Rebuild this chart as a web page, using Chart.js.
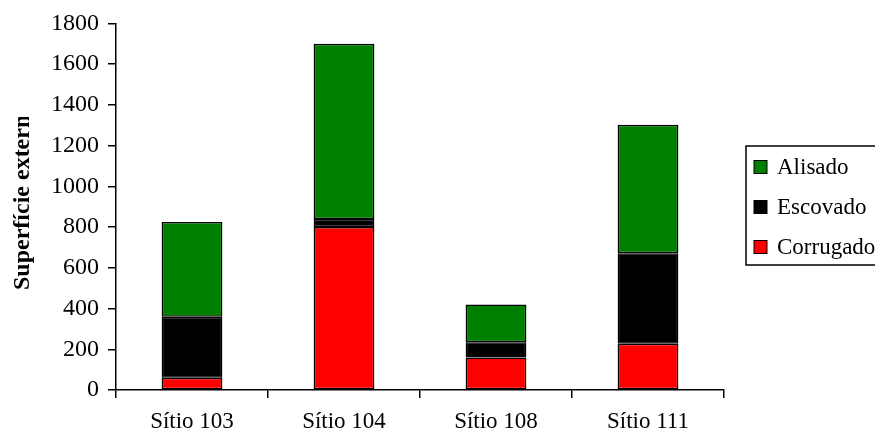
<!DOCTYPE html>
<html>
<head>
<meta charset="utf-8">
<script src="https://cdn.jsdelivr.net/npm/chart.js@4.4.0/dist/chart.umd.min.js"></script>
<style>
  html, body { margin: 0; padding: 0; background: #fff; }
  #wrap { width: 875px; height: 437px; }
</style>
</head>
<body>
<div id="wrap"><canvas id="chart" width="875" height="437"></canvas></div>
<script>
const sites = ['Sítio 103', 'Sítio 104', 'Sítio 108', 'Sítio 111'];
const corrugado = [60, 800, 160, 227];
const escovado = [300, 40, 75, 445];
const alisado = [465, 860, 185, 630];
const yTicks = [0, 200, 400, 600, 800, 1000, 1200, 1400, 1600, 1800];
const yTitle = 'Superfície externa';

const serif = '"Liberation Serif", "Times New Roman", serif';

// legend box on the right, cut off by the canvas edge
const boxLegend = {
  id: 'boxLegend',
  afterDraw(chart) {
    const ctx = chart.ctx;
    const items = chart.data.datasets.slice().reverse();
    ctx.save();
    ctx.lineWidth = 1.5;
    ctx.strokeStyle = '#000';
    ctx.strokeRect(746, 146, 140, 119);
    ctx.font = '23px ' + serif;
    ctx.textBaseline = 'middle';
    items.forEach((ds, i) => {
      const cy = 167 + i * 40;
      ctx.fillStyle = ds.backgroundColor;
      ctx.fillRect(754, cy - 6.5, 13, 13);
      ctx.lineWidth = 1;
      ctx.strokeRect(754, cy - 6.5, 13, 13);
      ctx.fillStyle = '#000';
      ctx.fillText(ds.label, 777, cy + 1);
    });
    ctx.restore();
  }
};

// rotated axis title, clipped at the top
const clippedTitle = {
  id: 'clippedTitle',
  afterDraw(chart) {
    const ctx = chart.ctx;
    ctx.save();
    ctx.beginPath();
    ctx.rect(0, 117, 60, 320);
    ctx.clip();
    ctx.translate(29, 290);
    ctx.rotate(-Math.PI / 2);
    ctx.font = 'bold 24px ' + serif;
    ctx.fillStyle = '#000';
    ctx.textAlign = 'left';
    ctx.textBaseline = 'alphabetic';
    ctx.fillText(yTitle, 0, 0);
    ctx.restore();
  }
};

const seg = (label, data, color) => ({
  label: label,
  data: data,
  backgroundColor: color,
  borderColor: '#000',
  borderWidth: 1.5,
  borderSkipped: false,
  categoryPercentage: 0.4,
  barPercentage: 1.0
});

new Chart(document.getElementById('chart'), {
  type: 'bar',
  data: {
    labels: sites,
    datasets: [
      seg('Corrugado', corrugado, '#ff0000'),
      seg('Escovado', escovado, '#000000'),
      seg('Alisado', alisado, '#008000')
    ]
  },
  options: {
    responsive: false,
    animation: false,
    layout: { padding: { left: 0, right: 151, top: 21, bottom: 0 } },
    plugins: {
      legend: { display: false },
      tooltip: { enabled: false }
    },
    scales: {
      x: {
        stacked: true,
        afterFit: s => { s.height = 47; },
        grid: {
          offset: true,
          drawOnChartArea: false,
          drawTicks: true,
          tickLength: 8,
          color: '#000',
          lineWidth: 1.5
        },
        border: { display: true, color: '#000', width: 1.5 },
        ticks: {
          color: '#000',
          padding: 10,
          font: { family: serif, size: 23 },
          maxRotation: 0
        }
      },
      y: {
        stacked: true,
        min: yTicks[0],
        max: yTicks[yTicks.length - 1],
        afterFit: s => { s.width = 116; },
        afterBuildTicks: s => { s.ticks = yTicks.map(v => ({ value: v })); },
        grid: {
          drawOnChartArea: false,
          drawTicks: true,
          tickLength: 8,
          color: '#000',
          lineWidth: 1.5
        },
        border: { display: true, color: '#000', width: 1.5 },
        ticks: {
          color: '#000',
          padding: 9,
          font: { family: serif, size: 24 },
          callback: v => String(v)
        }
      }
    }
  },
  plugins: [boxLegend, clippedTitle]
});
</script>
</body>
</html>
